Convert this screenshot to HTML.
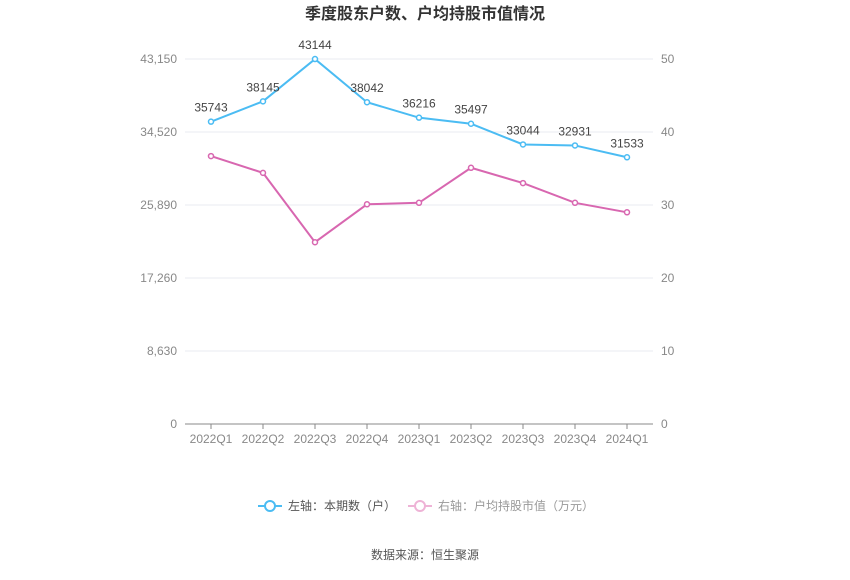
<!DOCTYPE html>
<html><head><meta charset="utf-8"><style>
body{margin:0;background:#fff;}
svg text{font-family:"Liberation Sans","Noto Sans CJK SC",sans-serif;}
</style></head><body>
<svg width="850" height="575" xmlns="http://www.w3.org/2000/svg" id="chart">
<text x="425" y="19" text-anchor="middle" font-size="16" font-weight="bold" fill="#333">季度股东户数、户均持股市值情况</text>
<g id="grid"></g>
<g id="axes"></g>
<g id="series"></g>
<g>
<g>
<line x1="258" y1="506" x2="282" y2="506" stroke="#4bbcf3" stroke-width="2"/>
<circle cx="270" cy="506" r="5" fill="#fff" stroke="#4bbcf3" stroke-width="2"/>
<text x="288" y="510" font-size="12" fill="#555">左轴：本期数（户）</text>
</g>
<g>
<line x1="408" y1="506" x2="432" y2="506" stroke="#eeb3d6" stroke-width="2"/>
<circle cx="420" cy="506" r="5" fill="#fff" stroke="#eeb3d6" stroke-width="2"/>
<text x="438" y="510" font-size="12" fill="#999">右轴：户均持股市值（万元）</text>
</g>
</g>
<text x="425" y="559" text-anchor="middle" font-size="12" fill="#555">数据来源：恒生聚源</text>
</svg>
<script>
const categories=["2022Q1","2022Q2","2022Q3","2022Q4","2023Q1","2023Q2","2023Q3","2023Q4","2024Q1"];
const holders=[35743,38145,43144,38042,36216,35497,33044,32931,31533];
const avgValue=[36.7,34.4,24.9,30.1,30.3,35.1,33.0,30.3,29.0];
const leftTicks=[0,8630,17260,25890,34520,43150];
const leftTickLabels=["0","8,630","17,260","25,890","34,520","43,150"];
const rightTicks=[0,10,20,30,40,50];
const NS="http://www.w3.org/2000/svg";
const X0=185,X1=653,Y0=424,Y1=59;
const bw=(X1-X0)/categories.length;
function xs(i){return X0+bw*(i+0.5);}
function yl(v){return Y0-(v/43150)*(Y0-Y1);}
function yr(v){return Y0-(v/50)*(Y0-Y1);}
function mk(tag,attrs,parent,text){const e=document.createElementNS(NS,tag);for(const k in attrs)e.setAttribute(k,attrs[k]);if(text!==undefined)e.textContent=text;parent.appendChild(e);return e;}
const grid=document.getElementById('grid'),axes=document.getElementById('axes'),series=document.getElementById('series');
leftTicks.forEach((t,i)=>{
  const y=yl(t);
  const g=mk('line',{x1:X0,x2:X1,y1:y,y2:y,stroke:i===0?'#888':'#e8ebf2','stroke-width':1},grid);
  
  
  const l=mk('text',{x:X0-8,y:y+4,'text-anchor':'end','font-size':12,fill:'#888'},axes,leftTickLabels[i]);
  
  
});
rightTicks.forEach(t=>{
  const r=mk('text',{x:X1+8,y:yr(t)+4,'font-size':12,fill:'#888'},axes,String(t));
  
  
});
categories.forEach((c,i)=>{
  const tk=mk('line',{x1:xs(i),x2:xs(i),y1:Y0,y2:Y0+5,stroke:'#888'},axes);
  
  
  const t=mk('text',{x:xs(i),y:Y0+19,'text-anchor':'middle','font-size':12,fill:'#888'},axes,c);
  
  
});
const p1=mk('polyline',{points:holders.map((v,i)=>xs(i)+','+yl(v)).join(' '),fill:'none',stroke:'#4bbcf3','stroke-width':2},series);


const p2=mk('polyline',{points:avgValue.map((v,i)=>xs(i)+','+yr(v)).join(' '),fill:'none',stroke:'#d867b0','stroke-width':2},series);


holders.forEach((v,i)=>{
  const c=mk('circle',{cx:xs(i),cy:yl(v),r:2.5,fill:'#fff',stroke:'#4bbcf3','stroke-width':1.5},series);
  
  
  const t=mk('text',{x:xs(i),y:yl(v)-10,'text-anchor':'middle','font-size':12,fill:'#444'},series,String(v));
  
  
});
avgValue.forEach((v,i)=>{
  const c=mk('circle',{cx:xs(i),cy:yr(v),r:2.5,fill:'#fff',stroke:'#d867b0','stroke-width':1.5},series);
  
  
});
</script>
</body></html>
